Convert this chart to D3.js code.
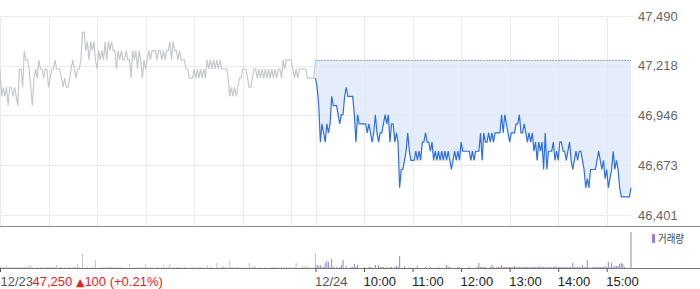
<!DOCTYPE html>
<html>
<head>
<meta charset="utf-8">
<script src="https://cdn.jsdelivr.net/npm/d3@7"></script>
<style>
  html, body { margin: 0; padding: 0; background: #fff; }
  svg { display: block; font-family: 'Liberation Sans', Arial, sans-serif; }
</style>
</head>
<body>
<div id="chart"></div>
<script>
// price per 2-minute step, 12/23 (previous day) and 12/24 (today)
const prevPrices = [
  47200,47050,47100,47050,47100,47000,47100,47100,47050,47100,
  47050,47000,47200,47200,47100,47300,47250,47250,47200,47100,
  47000,47150,47200,47150,47250,47200,47200,47150,47200,47200,
  47100,47150,47200,47200,47250,47200,47200,47200,47150,47100,
  47150,47100,47100,47150,47200,47250,47200,47150,47200,47200,
  47250,47400,47400,47300,47350,47250,47350,47300,47350,47250,
  47200,47300,47250,47300,47250,47350,47250,47350,47300,47350,
  47300,47300,47200,47300,47250,47300,47250,47250,47300,47250,
  47250,47150,47300,47250,47300,47200,47300,47250,47150,47250,
  47200,47250,47300,47250,47300,47300,47300,47250,47300,47300,
  47250,47300,47250,47300,47300,47350,47250,47350,47300,47300,
  47250,47300,47250,47250,47250,47200,47200,47150,47150,47150,
  47200,47150,47200,47150,47200,47150,47200,47150,47250,47200,
  47250,47200,47250,47200,47250,47200,47250,47200,47200,47200,
  47200,47150,47050,47100,47050,47100,47050,47100,47150,47150,
  47200,47200,47200,47150,47100,47100,47150,47200,47200,47150,
  47200,47150,47200,47150,47200,47150,47200,47150,47200,47150,
  47200,47150,47200,47200,47150,47250,47200,47250,47250,47250,
  47250,47200,47150,47200,47150,47200,47200,47200,47200,47200,
  47150,47150,47150,47150,47150,47250
]
const todayPrices = [
  47150,47100,47000,46800,46900,46850,46800,46900,46850,46900,
  47050,47000,47000,47000,46950,46900,46950,46950,47050,47100,
  47050,47050,47050,47050,46950,46800,46950,46900,46900,46900,
  46900,46900,46850,46900,46850,46800,46850,46950,46850,46800,
  46850,46850,46900,46950,46900,46950,46800,46900,46900,46800,
  46850,46800,46550,46650,46650,46700,46750,46850,46750,46700,
  46700,46700,46750,46700,46750,46700,46800,46800,46850,46800,
  46800,46750,46800,46700,46750,46700,46750,46700,46750,46700,
  46750,46700,46750,46700,46650,46700,46750,46700,46750,46700,
  46800,46750,46750,46750,46750,46750,46700,46750,46700,46750,
  46750,46750,46850,46700,46850,46800,46800,46850,46800,46850,
  46800,46850,46850,46850,46850,46950,46850,46950,46900,46850,
  46800,46850,46850,46850,46900,46900,46950,46850,46850,46900,
  46850,46800,46850,46800,46850,46750,46800,46700,46800,46750,
  46800,46650,46850,46650,46750,46750,46750,46800,46700,46750,
  46700,46800,46800,46750,46750,46700,46750,46800,46700,46650,
  46700,46750,46700,46750,46750,46700,46650,46550,46600,46550,
  46650,46650,46650,46650,46700,46750,46700,46650,46700,46600,
  46650,46550,46600,46650,46750,46650,46700,46650,46550,46500,
  46500,46500,46500,46500,46500,46550
]
// volume per 2-minute step, thousand shares
const prevVolume = [
  2,1,1,1,2,1,1,1,1,1, 1,1,1,1,1,1,1,1,2,3, 1,0,0,1,0,1,1,0,1,1,
  1,1,1,1,1,3,0,1,1,0, 1,0,1,1,0,1,1,1,4,1, 0,14,0,0,1,0,0,1,0,8,
  0,0,1,0,1,1,1,1,2,1, 1,1,1,0,1,1,0,0,1,0, 4,0,1,0,1,1,0,1,0,1,
  4,1,0,1,1,0,0,1,1,0, 1,3,0,1,1,4,0,1,1,1, 1,1,1,0,1,1,0,0,1,1,
  0,1,0,1,1,0,1,0,3,0, 1,1,0,0,5,1,0,1,2,1, 1,0,7,1,1,0,1,1,0,1,
  0,0,1,0,5,1,1,2,1,0, 0,1,0,0,1,0,0,0,1,1, 1,1,0,1,1,0,1,1,0,1,
  1,0,1,5,0,1,0,2,2,1, 2,1,0,0,1,15
]
const todayVolume = [
  1,3,2,3,1,1,5,7,6,1, 9,1,0,1,0,1,3,8,0,2, 0,0,1,1,4,1,3,0,0,0,
  1,0,0,1,1,0,0,3,0,3, 1,1,1,0,1,0,1,1,0,1, 2,1,12,0,0,2,0,0,1,0,
  0,0,0,2,0,0,0,0,1,0, 0,1,0,0,0,0,1,0,0,0, 0,3,1,1,0,0,0,0,1,1,
  0,0,0,0,0,1,0,0,0,0, 1,5,1,1,1,1,0,0,1,3, 1,0,1,1,1,3,1,1,1,1,
  1,1,1,2,1,1,1,1,1,1, 1,1,1,1,1,1,1,1,2,1, 1,1,1,1,1,1,1,1,2,1,
  1,1,1,1,1,1,1,1,1,5, 1,1,1,1,1,3,1,1,8,1, 0,1,1,1,1,1,1,1,1,2,
  1,6,1,5,1,2,2,2,4,5, 4,1,0,0,0,36
]
const prevClose = 47250
const priceTicks = [46401, 46673, 46946, 47218, 47490]
const gridMinutes = [0, 60, 120, 180, 240, 300, 360, 390, 450, 510, 570, 630, 690, 750]
const timeTicks = [0, 390, 450, 510, 570, 630, 690, 750]
const timeLabels = ['12/23', '12/24', '10:00', '11:00', '12:00', '13:00', '14:00', '15:00']
const STEP = 2 // minutes per sample
const DAY = 390 // minutes per session

const W = 700, H = 289

const svg = d3
  .select('#chart')
  .append('svg')
  .attr('width', W)
  .attr('height', H)

const x = d3.scaleLinear().domain([0, DAY * 2]).range([0, 631])
const y = d3.scaleLinear().domain([46401, 47490]).range([215, 16])
const vy = d3.scaleLinear().domain([0, 42]).range([268, 226])

const prevData = prevPrices.map((p, i) => ({ t: i * STEP, p }))
const todayData = todayPrices.map((p, i) => ({ t: DAY + i * STEP, p }))

// grid
svg
  .append('g')
  .selectAll('line')
  .data(priceTicks)
  .join('line')
  .attr('x1', 0)
  .attr('x2', x(DAY * 2))
  .attr('y1', (d) => Math.round(y(d)) + 0.5)
  .attr('y2', (d) => Math.round(y(d)) + 0.5)
  .attr('stroke', '#ebebeb')

svg
  .append('g')
  .selectAll('line')
  .data(gridMinutes)
  .join('line')
  .attr('x1', (d) => Math.round(x(d)) + 0.5)
  .attr('x2', (d) => Math.round(x(d)) + 0.5)
  .attr('y1', 16)
  .attr('y2', 226)
  .attr('stroke', '#ebebeb')

// area between today's line and previous close
const area = d3
  .area()
  .x((d) => x(d.t))
  .y0(y(prevClose))
  .y1((d) => y(d.p))

svg
  .append('path')
  .datum(todayData)
  .attr('d', area)
  .attr('fill', '#dde7f8')
  .attr('fill-opacity', 0.75)

// previous close dotted line
svg
  .append('line')
  .attr('x1', x(DAY))
  .attr('x2', x(DAY * 2))
  .attr('y1', Math.round(y(prevClose)) + 0.5)
  .attr('y2', Math.round(y(prevClose)) + 0.5)
  .attr('stroke', '#666')
  .attr('stroke-dasharray', '1,2')

const line = d3
  .line()
  .x((d) => x(d.t))
  .y((d) => y(d.p))

svg
  .append('path')
  .datum(prevData.concat([{ t: DAY, p: prevClose }]))
  .attr('d', line)
  .attr('fill', 'none')
  .attr('stroke', '#c6c8cd')
  .attr('stroke-width', 1.2)

svg
  .append('path')
  .datum(todayData)
  .attr('d', line)
  .attr('fill', 'none')
  .attr('stroke', '#2e6fdc')
  .attr('stroke-width', 1.2)

// right price axis
const yAxis = svg
  .append('g')
  .attr('transform', 'translate(636,0)')
  .call(d3.axisRight(y).tickValues(priceTicks).tickSize(0).tickFormat(d3.format(',')))
yAxis.select('.domain').remove()
yAxis
  .selectAll('text')
  .attr('x', 2)
  .attr('fill', '#666')
  .style('font-size', '13px')
  .style('font-family', "'Liberation Sans', Arial, sans-serif")

// panel separator
svg
  .append('line')
  .attr('x1', 0)
  .attr('x2', W)
  .attr('y1', 226.5)
  .attr('y2', 226.5)
  .attr('stroke', '#888')

// volume bars
const volData = prevVolume
  .map((v, i) => ({ t: i * STEP, v, today: false }))
  .concat(todayVolume.map((v, i) => ({ t: DAY + i * STEP, v, today: true })))
  .filter((d) => d.v > 0)

svg
  .append('g')
  .selectAll('rect')
  .data(volData)
  .join('rect')
  .attr('x', (d) => x(d.t) - 0.5)
  .attr('width', 1)
  .attr('y', (d) => vy(d.v))
  .attr('height', (d) => vy(0) - vy(d.v))
  .attr('fill', (d) => (d.today ? '#9783c7' : '#c4c4c4'))

// legend
svg.append('rect').attr('x', 652).attr('y', 234).attr('width', 3).attr('height', 9).attr('fill', '#9783c7')
svg
  .append('text')
  .attr('x', 658)
  .attr('y', 243)
  .attr('fill', '#444')
  .style('font-size', '11px')
  .style('font-family', "'Noto Sans CJK KR', sans-serif")
  .attr('textLength', 26)
  .attr('lengthAdjust', 'spacingAndGlyphs')
  .text('거래량')

// time axis
svg
  .append('line')
  .attr('x1', 0)
  .attr('x2', W)
  .attr('y1', 268.5)
  .attr('y2', 268.5)
  .attr('stroke', '#777')

const xAxis = svg
  .append('g')
  .attr('transform', 'translate(0,268)')
  .call(
    d3
      .axisBottom(x)
      .tickValues(timeTicks)
      .tickSize(4)
      .tickSizeOuter(0)
      .tickFormat((d, i) => timeLabels[i])
  )
xAxis.select('.domain').remove()
xAxis.selectAll('line').attr('stroke', '#555')
xAxis
  .selectAll('text')
  .attr('text-anchor', 'start')
  .attr('x', (d) => (d === 0 ? 0 : -1))
  .attr('y', 9)
  .attr('fill', (d) => (d === 0 || d === DAY ? '#555' : '#222'))
  .style('font-size', '13px')
  .style('font-family', "'Liberation Sans', Arial, sans-serif")

// current price summary after the first date label
const firstLabel = xAxis.select('.tick text').node()
const labelEnd = firstLabel.getComputedTextLength()
const summary = svg
  .append('text')
  .attr('x', labelEnd)
  .attr('y', 286)
  .attr('fill', '#e8231f')
  .style('font-size', '13px')
  .style('font-family', "'Liberation Sans', Arial, sans-serif")
summary.append('tspan').text('47,250 ')
summary.append('tspan').style('font-family', "'DejaVu Sans', sans-serif").style('font-size', '11px').text('▲')
summary.append('tspan').text('100 (+0.21%)')
</script>
</body>
</html>
